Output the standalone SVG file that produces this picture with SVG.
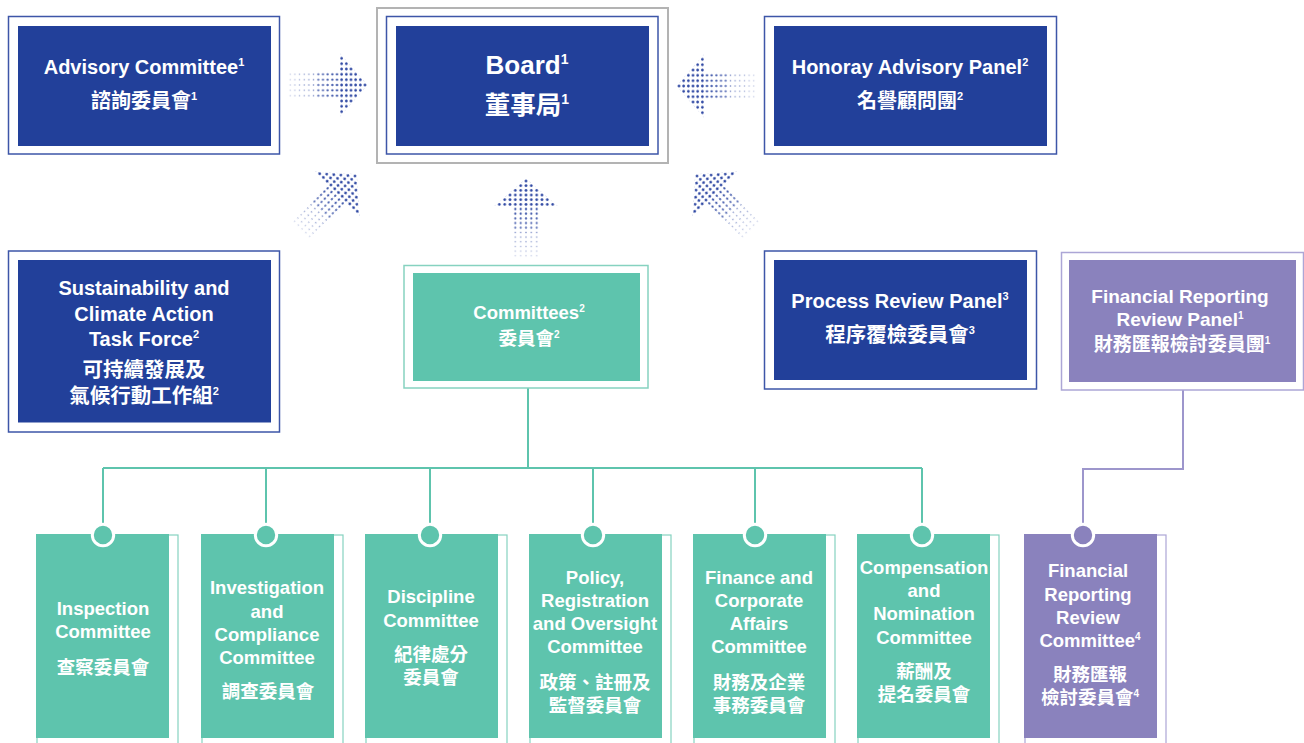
<svg xmlns="http://www.w3.org/2000/svg" width="1304" height="743" viewBox="0 0 1304 743">
<style>
.t{font-family:"Liberation Sans","Noto Sans CJK TC",Arial,sans-serif;font-weight:bold;fill:#fff;text-anchor:middle}
.db{fill:#22409a}
.dbo{fill:none;stroke:#3d56a8;stroke-width:1.5}
.go{fill:none;stroke:#b3b3b3;stroke-width:2}
.tf{fill:#5ec4ad}
.to{fill:none;stroke:#86d2c0;stroke-width:1.5}
.tob{fill:none;stroke:#86d2c0;stroke-width:1.2}
.pf{fill:#8a82bd}
.po{fill:none;stroke:#aca6d6;stroke-width:1.5}
.pob{fill:none;stroke:#aca6d6;stroke-width:1.2}
.tl{fill:none;stroke:#5ec4ad;stroke-width:2}
.pl{fill:none;stroke:#9d96cc;stroke-width:2}
.tc{fill:#5ec4ad;stroke:#fff;stroke-width:3}
.pc{fill:#8a82bd;stroke:#fff;stroke-width:3}
</style>
<defs>
<pattern id="pH" patternUnits="userSpaceOnUse" x="-2.665" y="-2.335" width="5.33" height="4.67"><circle cx="2.665" cy="2.335" r="1.4" fill="#2b45a1"/></pattern>
<pattern id="pM" patternUnits="userSpaceOnUse" x="-2.665" y="-2.335" width="5.33" height="4.67"><circle cx="2.665" cy="2.335" r="1.1" fill="#2b45a1"/></pattern>
<pattern id="pT" patternUnits="userSpaceOnUse" x="-2.665" y="-2.335" width="5.33" height="4.67"><circle cx="2.665" cy="2.335" r="0.8" fill="#2b45a1"/></pattern>
<linearGradient id="gf" gradientUnits="userSpaceOnUse" x1="0" y1="26" x2="0" y2="78"><stop offset="0" stop-color="#fff"/><stop offset="1" stop-color="#333"/></linearGradient>
<mask id="mf" maskUnits="userSpaceOnUse" x="-40" y="-10" width="80" height="95"><rect x="-40" y="-10" width="80" height="95" fill="url(#gf)"/></mask>
<g id="arr" mask="url(#mf)">
<polygon points="0,-2.5 32,25.5 -32,25.5" fill="url(#pH)"/>
<rect x="-13.5" y="25.5" width="27" height="23.5" fill="url(#pM)"/>
<rect x="-13.5" y="49" width="27" height="28" fill="url(#pT)"/>
</g>
</defs>
<rect width="1304" height="743" fill="#fff"/>

<g id="connectors">
<use href="#arr" transform="translate(365,85) rotate(90)"/>
<use href="#arr" transform="translate(679,86) rotate(-90)"/>
<use href="#arr" transform="translate(526,181)"/>
<use href="#arr" transform="translate(355,176) rotate(45)"/>
<use href="#arr" transform="translate(697,176) rotate(-45)"/>
<path class="tl" d="M528,388V468M103,468H922M103,468V535M266,468V535M430,468V535M593,468V535M755,468V535M922,468V535"/>
<path class="pl" d="M1183,390V469H1083V535"/>
</g>

<g id="advisory">
<rect class="dbo" x="8.5" y="16.5" width="271" height="137.5"/>
<rect class="db" x="18" y="26" width="253" height="120"/>
<text class="t" x="144" y="74" font-size="20">Advisory Committee<tspan font-size="11" dy="-8">1</tspan></text>
<text class="t" x="144" y="108" font-size="20">諮詢委員會<tspan font-size="11" dy="-8">1</tspan></text>
</g>

<g id="board">
<rect class="go" x="377" y="8" width="291" height="155"/>
<rect class="dbo" x="386.5" y="16.5" width="271.5" height="137.5"/>
<rect class="db" x="396" y="26" width="253" height="120"/>
<text class="t" x="527" y="74" font-size="26">Board<tspan font-size="14" dy="-10">1</tspan></text>
<text class="t" x="527" y="114" font-size="25.5">董事局<tspan font-size="14" dy="-10">1</tspan></text>
</g>

<g id="honorary">
<rect class="dbo" x="764.5" y="16.5" width="292" height="137.5"/>
<rect class="db" x="774" y="26" width="273" height="120"/>
<text class="t" x="910" y="74" font-size="20">Honoray Advisory Panel<tspan font-size="11" dy="-8">2</tspan></text>
<text class="t" x="910" y="108" font-size="20">名譽顧問團<tspan font-size="11" dy="-8">2</tspan></text>
</g>

<g id="sustainability">
<rect class="dbo" x="8.5" y="251" width="271" height="181"/>
<rect class="db" x="18" y="260" width="253" height="162.5"/>
<text class="t" x="144" y="295" font-size="20">Sustainability and</text>
<text class="t" x="144" y="321" font-size="20">Climate Action</text>
<text class="t" x="144" y="346" font-size="20">Task Force<tspan font-size="11" dy="-8">2</tspan></text>
<text class="t" x="144" y="377" font-size="20.5">可持續發展及</text>
<text class="t" x="144" y="403" font-size="20.5">氣候行動工作組<tspan font-size="11" dy="-8">2</tspan></text>
</g>

<g id="committees">
<rect class="to" x="404" y="265.5" width="244" height="122.5"/>
<rect class="tf" x="413" y="273" width="227" height="108"/>
<text class="t" x="529" y="319" font-size="18.5">Committees<tspan font-size="10" dy="-7">2</tspan></text>
<text class="t" x="529" y="345" font-size="18.5">委員會<tspan font-size="10" dy="-7">2</tspan></text>
</g>

<g id="process">
<rect class="dbo" x="764.5" y="251" width="272" height="138"/>
<rect class="db" x="774" y="260" width="253" height="120"/>
<text class="t" x="900" y="308" font-size="20">Process Review Panel<tspan font-size="11" dy="-8">3</tspan></text>
<text class="t" x="900" y="342" font-size="20.5">程序覆檢委員會<tspan font-size="11" dy="-8">3</tspan></text>
</g>

<g id="frrp">
<rect class="po" x="1061.5" y="252.5" width="242" height="137.5"/>
<rect class="pf" x="1069" y="260" width="227" height="122"/>
<text class="t" x="1180" y="303" font-size="19">Financial Reporting</text>
<text class="t" x="1180" y="326" font-size="19">Review Panel<tspan font-size="10" dy="-7">1</tspan></text>
<text class="t" x="1182" y="351" font-size="19">財務匯報檢討委員團<tspan font-size="10" dy="-7">1</tspan></text>
</g>

<g id="inspection">
<rect class="tob" x="37" y="535" width="141" height="220"/>
<rect class="tf" x="36" y="534" width="133" height="204"/>
<circle class="tc" cx="103" cy="535" r="10.7"/>
<text class="t" x="103" y="615" font-size="18.5">Inspection</text>
<text class="t" x="103" y="638" font-size="18.5">Committee</text>
<text class="t" x="103" y="674" font-size="18.5">查察委員會</text>
</g>

<g id="investigation">
<rect class="tob" x="202" y="535" width="141" height="220"/>
<rect class="tf" x="201" y="534" width="133" height="204"/>
<circle class="tc" cx="266" cy="535" r="10.7"/>
<text class="t" x="267" y="594" font-size="18.5">Investigation</text>
<text class="t" x="267" y="617.5" font-size="18.5">and</text>
<text class="t" x="267" y="641" font-size="18.5">Compliance</text>
<text class="t" x="267" y="664" font-size="18.5">Committee</text>
<text class="t" x="268" y="698" font-size="18.5">調查委員會</text>
</g>

<g id="discipline">
<rect class="tob" x="366" y="535" width="141" height="220"/>
<rect class="tf" x="365" y="534" width="133" height="204"/>
<circle class="tc" cx="430" cy="535" r="10.7"/>
<text class="t" x="431" y="603" font-size="18.5">Discipline</text>
<text class="t" x="431" y="626.5" font-size="18.5">Committee</text>
<text class="t" x="431" y="661" font-size="18.5">紀律處分</text>
<text class="t" x="431" y="684" font-size="18.5">委員會</text>
</g>

<g id="policy">
<rect class="tob" x="530" y="535" width="141" height="220"/>
<rect class="tf" x="529" y="534" width="133" height="204"/>
<circle class="tc" cx="593" cy="535" r="10.7"/>
<text class="t" x="595" y="584" font-size="18.5">Policy,</text>
<text class="t" x="595" y="607" font-size="18.5">Registration</text>
<text class="t" x="595" y="630" font-size="18.5">and Oversight</text>
<text class="t" x="595" y="653" font-size="18.5">Committee</text>
<text class="t" x="595" y="689" font-size="18.5">政策、註冊及</text>
<text class="t" x="595" y="712" font-size="18.5">監督委員會</text>
</g>

<g id="finance">
<rect class="tob" x="694" y="535" width="141" height="220"/>
<rect class="tf" x="693" y="534" width="133" height="204"/>
<circle class="tc" cx="755" cy="535" r="10.7"/>
<text class="t" x="759" y="584" font-size="18.5">Finance and</text>
<text class="t" x="759" y="607" font-size="18.5">Corporate</text>
<text class="t" x="759" y="630" font-size="18.5">Affairs</text>
<text class="t" x="759" y="653" font-size="18.5">Committee</text>
<text class="t" x="759" y="689" font-size="18.5">財務及企業</text>
<text class="t" x="759" y="712" font-size="18.5">事務委員會</text>
</g>

<g id="compensation">
<rect class="tob" x="858" y="535" width="141" height="220"/>
<rect class="tf" x="857" y="534" width="133" height="204"/>
<circle class="tc" cx="922" cy="535" r="10.7"/>
<text class="t" x="924" y="574" font-size="18.5">Compensation</text>
<text class="t" x="924" y="597" font-size="18.5">and</text>
<text class="t" x="924" y="620" font-size="18.5">Nomination</text>
<text class="t" x="924" y="643.5" font-size="18.5">Committee</text>
<text class="t" x="924" y="678" font-size="18.5">薪酬及</text>
<text class="t" x="924" y="701" font-size="18.5">提名委員會</text>
</g>

<g id="frrc">
<rect class="pob" x="1025" y="535" width="141" height="220"/>
<rect class="pf" x="1024" y="534" width="133" height="204"/>
<circle class="pc" cx="1083" cy="535" r="10.7"/>
<text class="t" x="1088" y="577" font-size="18.5">Financial</text>
<text class="t" x="1088" y="600.5" font-size="18.5">Reporting</text>
<text class="t" x="1088" y="623.5" font-size="18.5">Review</text>
<text class="t" x="1090" y="646.5" font-size="18.5">Committee<tspan font-size="10" dy="-7">4</tspan></text>
<text class="t" x="1090" y="681" font-size="18.5">財務匯報</text>
<text class="t" x="1090" y="704" font-size="18.5">檢討委員會<tspan font-size="10" dy="-7">4</tspan></text>
</g>
</svg>
